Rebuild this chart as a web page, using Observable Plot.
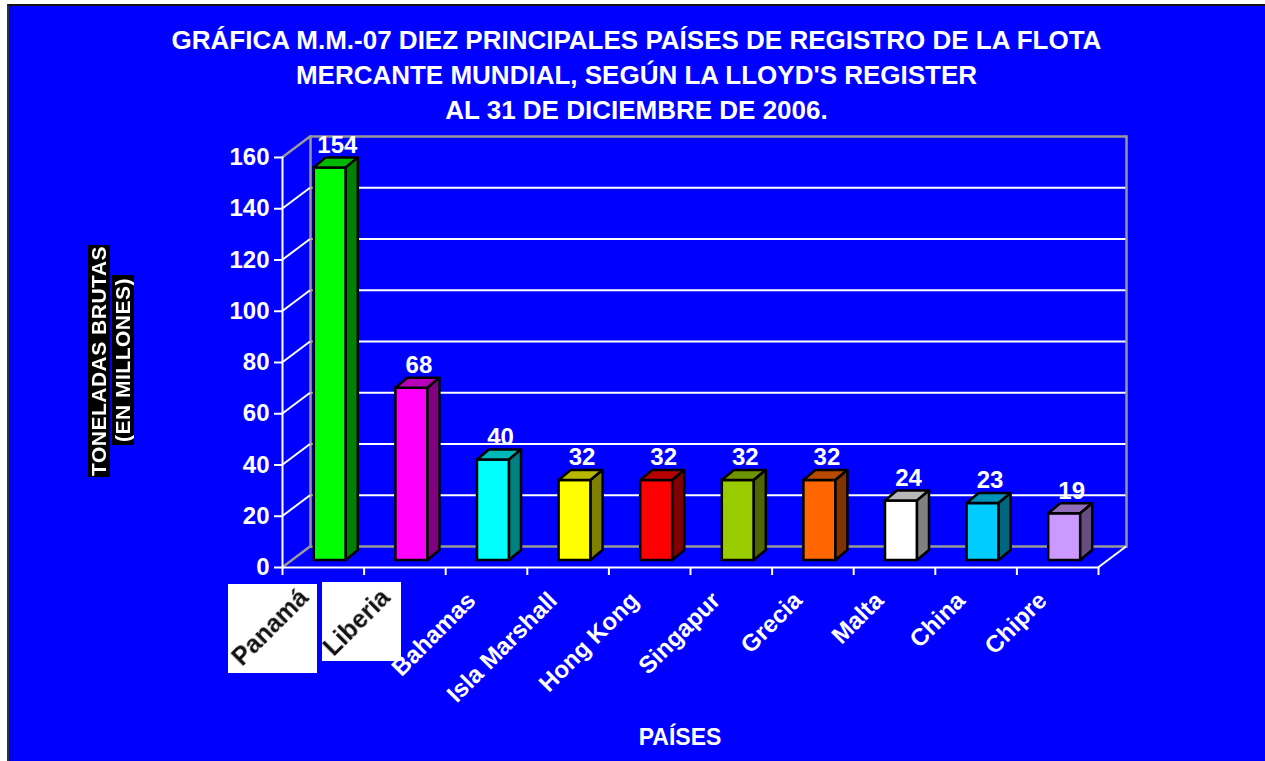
<!DOCTYPE html>
<html><head><meta charset="utf-8">
<script src="https://cdn.jsdelivr.net/npm/d3@7"></script>
<script src="https://cdn.jsdelivr.net/npm/@observablehq/plot@0.6"></script>
<style>
html,body{margin:0;padding:0;background:#fff;overflow:hidden}
#page{position:relative;width:1265px;height:761px;overflow:hidden}
#panel{position:absolute;left:7px;top:4px;right:-4px;bottom:-4px;background:#0000ff;border-left:2px solid #333;border-top:2px solid #111;box-sizing:border-box}
.abs{position:absolute}
#title{left:0;width:1273px;top:23px;text-align:center;color:#fff;font:bold 26px/35px "Liberation Sans",Arial,sans-serif;white-space:nowrap}
.box{position:absolute;background:#fff}
.ylab{position:absolute;background:#000;color:#fff;font:bold 21px "Liberation Sans",Arial,sans-serif;letter-spacing:.5px;writing-mode:vertical-rl;transform:rotate(180deg);text-align:center;white-space:nowrap;line-height:22px}
#xlab{left:580px;width:200px;top:724px;text-align:center;color:#fff;font:bold 23px "Liberation Sans",Arial,sans-serif}
svg{position:absolute;left:0;top:0;background:transparent!important}
.blurred text{filter:blur(.6px)}
</style></head><body>
<div id="page">
<div id="panel"></div>
<div id="title" class="abs">GRÁFICA M.M.-07 DIEZ PRINCIPALES PAÍSES DE REGISTRO DE LA FLOTA<br>MERCANTE MUNDIAL, SEGÚN LA LLOYD'S REGISTER<br>AL 31 DE DICIEMBRE DE 2006.</div>
<div class="box" style="left:228px;top:584px;width:89px;height:89px"></div>
<div class="box" style="left:322px;top:582px;width:79px;height:79px"></div>
<div class="ylab" style="left:88px;top:245px;width:22px;height:232px">TONELADAS BRUTAS</div>
<div class="ylab" style="left:112px;top:275px;width:22px;height:170px">(EN MILLONES)</div>
<div id="xlab" class="abs">PAÍSES</div>
</div>
<script>
const paises = ["Panamá","Liberia","Bahamas","Isla Marshall","Hong Kong","Singapur","Grecia","Malta","China","Chipre"];
const toneladas = [154,68,40,32,32,32,32,24,23,19];
const colores = ["#00ff00","#ff00ff","#00ffff","#ffff00","#ff0000","#99cc00","#ff6600","#ffffff","#00ccff","#cc99ff"];
const yTicks = [0,20,40,60,80,100,120,140,160];

const filas = paises.map((pais,i)=>({pais,valor:toneladas[i],color:colores[i]}));
const font = '"Liberation Sans",Arial,sans-serif';
const DX=28, DY=-21;       // wall depth
const BX=12, BY=-10;       // bar depth

function sombra(c,k){const r=d3.rgb(c);return d3.rgb(r.r*k,r.g*k,r.b*k).formatHex();}

// Draws the top and side faces of each bar from the rect the library placed.
function prisma(index,scales,values,dims,ctx,next){
  const g=next(index,scales,values,dims,ctx);
  d3.select(g).selectAll("rect").each(function(_,j){
    const r=d3.select(this);
    const i=index[j];
    const x=+r.attr("x"),y=+r.attr("y"),w=+r.attr("width"),h=+r.attr("height");
    const c=filas[i].color;
    const add=(pts,k)=>d3.select(g).append("polygon").attr("points",pts.map(p=>p.join(",")).join(" "))
      .attr("fill",sombra(c,k)).attr("stroke","#000").attr("stroke-width",2.5).attr("stroke-linejoin","round").attr("transform",r.attr("transform"));
    add([[x,y],[x+w,y],[x+w+BX,y+BY],[x+BX,y+BY]],.72);
    add([[x+w,y],[x+w+BX,y+BY],[x+w+BX,y+h+BY],[x+w,y+h]],.5);
  });
  return g;
}
// Turns a horizontal rule at a y tick into the receding rung of the side wall.
function peldano(index,scales,values,dims,ctx,next){
  const g=next(index,scales,values,dims,ctx);
  d3.select(g).selectAll("line").each(function(){
    const l=d3.select(this),x=+l.attr("x1"),y=+l.attr("y1");
    l.attr("x2",x+DX).attr("y2",y+DY);
  });
  return g;
}

const W=1265,H=761,L=282,R=1098,T=157,B=567;
const wall={stroke:"#999",strokeWidth:2.5};
const chart=Plot.plot({
  width:W,height:H,marginLeft:L,marginRight:W-R,marginTop:T,marginBottom:H-B,
  style:{background:"transparent",fontFamily:font},
  x:{type:"band",domain:paises,padding:0,round:false,axis:null},
  y:{domain:[0,160],axis:null},
  marks:[
    // back wall
    Plot.ruleY(yTicks.slice(1,-1),{dx:DX,dy:DY,stroke:"#fff",strokeWidth:2}),
    Plot.ruleY([0,160],{dx:DX,dy:DY,...wall}),
    Plot.frame({anchor:"left",dx:DX,dy:DY,...wall}),
    Plot.frame({anchor:"right",dx:DX,dy:DY,...wall}),
    // side wall rungs and the floor's right edge
    Plot.ruleY(yTicks.slice(1,-1),{stroke:"#fff",strokeWidth:2,render:peldano}),
    Plot.ruleY([0,160],{...wall,render:peldano}),
    Plot.ruleY([0],{dx:R-L,stroke:"#fff",strokeWidth:2,render:peldano}),
    // axes
    Plot.frame({anchor:"left",stroke:"#fff",strokeWidth:2}),
    Plot.frame({anchor:"bottom",stroke:"#fff",strokeWidth:2}),
    Plot.axisY({ticks:yTicks,tickSize:8,tickPadding:5,stroke:"#fff",fill:"#fff",color:"#fff",strokeWidth:2,fontSize:24,fontWeight:"bold",label:null}),
    Plot.axisX({tickSize:8,tickFormat:()=>"",dx:-40.8,stroke:"#fff",color:"#fff",strokeWidth:2,label:null}),
    Plot.axisX({ticks:paises.slice(-1),tickSize:8,tickFormat:()=>"",dx:40.8,stroke:"#fff",color:"#fff",strokeWidth:2,label:null}),
    // bars
    Plot.barY(filas,{x:"pais",y:"valor",fill:"color",stroke:"#000",strokeWidth:2.5,insetLeft:24.8,insetRight:24.8,insetBottom:2,dx:7,dy:-5,render:prisma}),
    Plot.text(filas,{x:"pais",y:"valor",text:d=>String(d.valor),dx:14,dy:-28,fill:"#fff",fontSize:24,fontWeight:"bold"}),
    // category labels
    Plot.axisX({ticks:paises.slice(2),tickSize:0,tickPadding:12,tickRotate:-45,dx:-15,dy:17,fontSize:24,fontWeight:"bold",color:"#fff",fill:"#fff",label:null}),
    Plot.axisX({ticks:paises.slice(0,2),tickSize:0,tickPadding:14,tickRotate:-45,dx:-19,dy:12,fontSize:25,fontWeight:"bold",color:"#111",fill:"#111",label:null,className:"blurred"})
  ]
});
document.getElementById("page").appendChild(chart);
</script>
</body></html>
